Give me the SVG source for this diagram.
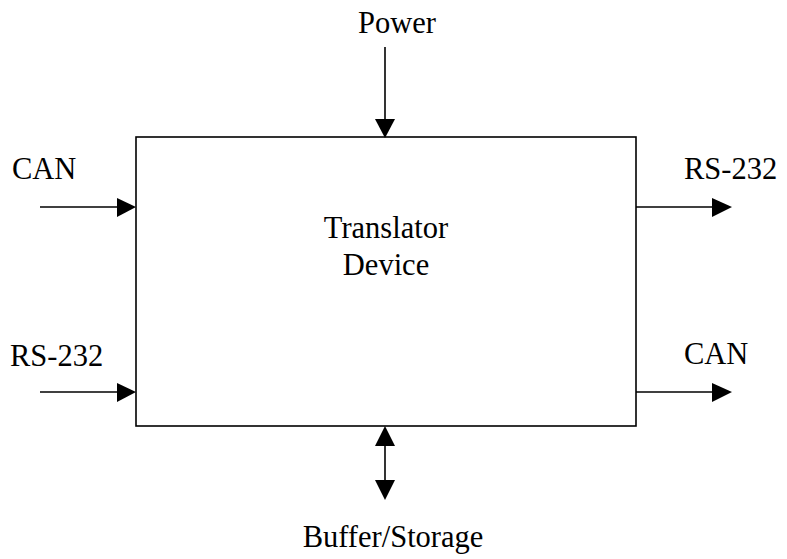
<svg xmlns="http://www.w3.org/2000/svg" width="787" height="559" viewBox="0 0 787 559">
  <style>
    .lbl { font-family: "Liberation Serif", "Times New Roman", serif; font-size: 30.5px; fill: #000; }
    .box { fill: #fff; stroke: #000; stroke-width: 1.6; }
    .wire { stroke: #000; stroke-width: 1.6; fill: none; }
    .head { fill: #000; stroke: none; }
  </style>
  <rect width="787" height="559" fill="#fff"/>

  <g id="translator">
    <rect class="box" x="136" y="137" width="500" height="289"/>
    <text class="lbl" x="386" y="238" text-anchor="middle">Translator</text>
    <text class="lbl" x="386" y="275" text-anchor="middle">Device</text>
  </g>

  <g id="labels">
    <text class="lbl" x="397" y="33" text-anchor="middle">Power</text>
    <text class="lbl" x="12" y="179">CAN</text>
    <text class="lbl" x="10" y="366">RS-232</text>
    <text class="lbl" x="684" y="179">RS-232</text>
    <text class="lbl" x="684" y="364">CAN</text>
    <text class="lbl" x="393" y="547" text-anchor="middle">Buffer/Storage</text>
  </g>

  <g id="connectors">
    <!-- power in -->
    <line class="wire" x1="385" y1="47" x2="385" y2="120"/>
    <polygon class="head" points="375,119 395,119 385,138"/>
    <!-- CAN in -->
    <line class="wire" x1="40" y1="207" x2="118" y2="207"/>
    <polygon class="head" points="117,198 117,217 136,207"/>
    <!-- RS-232 in -->
    <line class="wire" x1="40" y1="392" x2="118" y2="392"/>
    <polygon class="head" points="117,383 117,402 136,392"/>
    <!-- RS-232 out -->
    <line class="wire" x1="636" y1="207" x2="714" y2="207"/>
    <polygon class="head" points="712,198 712,217 732,207"/>
    <!-- CAN out -->
    <line class="wire" x1="636" y1="392" x2="714" y2="392"/>
    <polygon class="head" points="712,383 712,402 732,392"/>
    <!-- buffer/storage, both ways -->
    <line class="wire" x1="385" y1="444" x2="385" y2="482"/>
    <polygon class="head" points="385,426 375,446 395,446"/>
    <polygon class="head" points="375,480 395,480 385,500"/>
  </g>
</svg>
